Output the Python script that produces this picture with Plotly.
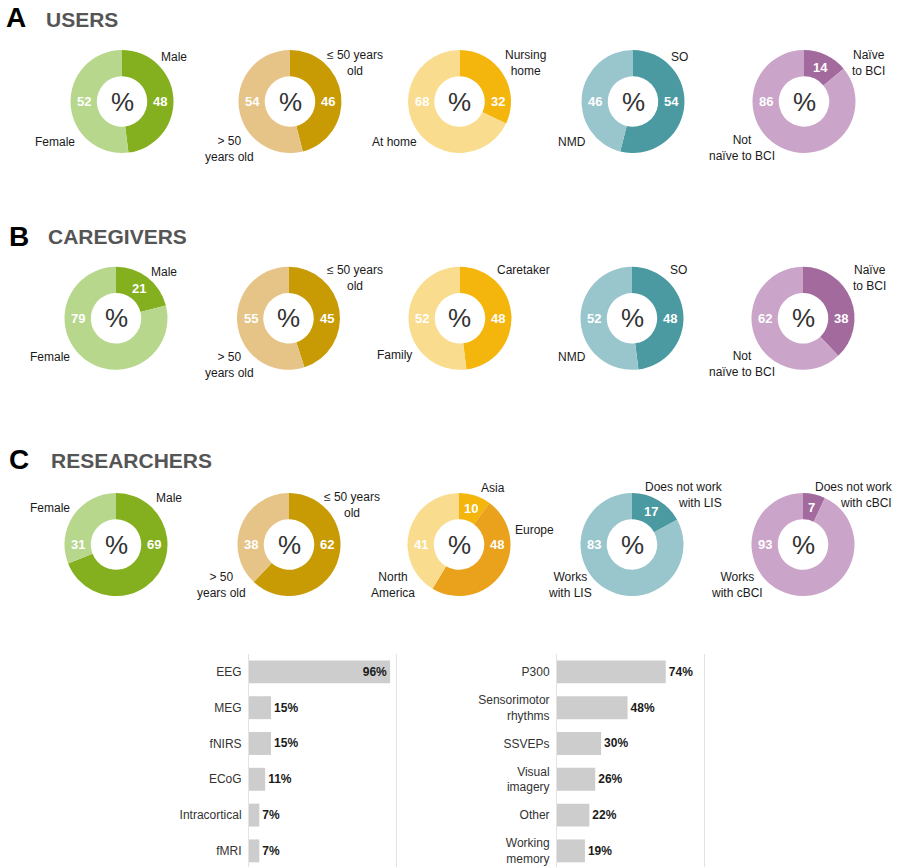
import math
import plotly.graph_objects as go

W, H = 900, 867

# ---------------- DATA ----------------
users_gender_labels = ["Male", "Female"]
users_gender_values = [48, 52]
users_age_labels = ["≤ 50 years old", "> 50 years old"]
users_age_values = [46, 54]
users_home_labels = ["Nursing home", "At home"]
users_home_values = [32, 68]
users_diag_labels = ["SO", "NMD"]
users_diag_values = [54, 46]
users_bci_labels = ["Naïve to BCI", "Not naïve to BCI"]
users_bci_values = [14, 86]

care_gender_labels = ["Male", "Female"]
care_gender_values = [21, 79]
care_age_labels = ["≤ 50 years old", "> 50 years old"]
care_age_values = [45, 55]
care_role_labels = ["Caretaker", "Family"]
care_role_values = [48, 52]
care_diag_labels = ["SO", "NMD"]
care_diag_values = [48, 52]
care_bci_labels = ["Naïve to BCI", "Not naïve to BCI"]
care_bci_values = [38, 62]

res_gender_labels = ["Male", "Female"]
res_gender_values = [69, 31]
res_age_labels = ["≤ 50 years old", "> 50 years old"]
res_age_values = [62, 38]
res_region_labels = ["Asia", "Europe", "North America"]
res_region_values = [10, 48, 41]
res_lis_labels = ["Does not work with LIS", "Works with LIS"]
res_lis_values = [17, 83]
res_cbci_labels = ["Does not work with cBCI", "Works with cBCI"]
res_cbci_values = [7, 93]

recording_methods = ["EEG", "MEG", "fNIRS", "ECoG", "Intracortical", "fMRI"]
recording_pct = [96, 15, 15, 11, 7, 7]
paradigms = ["P300", "Sensorimotor<br>rhythms", "SSVEPs", "Visual<br>imagery", "Other", "Working<br>memory"]
paradigm_pct = [74, 48, 30, 26, 22, 19]

section_letters = ["A", "B", "C"]
section_titles = ["USERS", "CAREGIVERS", "RESEARCHERS"]

# ---------------- STYLE ----------------
FONT = "Liberation Sans, Arial, sans-serif"
GREEN = ["#84AF1E", "#B6D78C"]
GOLD = ["#C89A04", "#E6C487"]
YELLOW = ["#F4B50C", "#FADC8E"]
REGION = ["#F4B50C", "#EAA11B", "#FADC8E"]
TEAL = ["#4B9AA2", "#99C6CC"]
PURPLE = ["#A36A9E", "#CBA4C9"]

R_OUT = 51.5
HOLE = 0.49
R_MID = 38


def px(x):
    return x / W


def py(y):
    return 1 - y / H


# pies: (values, colors, center x, center y, names, label annotations [(text, x, y, xanchor, align)])
pies = [
    (users_gender_values, GREEN, 122, 101.5, users_gender_labels,
     [("Male", 174, 57, "center", "center"), ("Female", 55, 142, "center", "center")]),
    (users_age_values, GOLD, 290, 101.5, users_age_labels,
     [("≤ 50 years<br>old", 355, 63, "center", "center"), ("> 50<br>years old", 230, 149, "center", "center")]),
    (users_home_values, YELLOW, 459.5, 101.5, users_home_labels,
     [("Nursing<br>home", 525, 63, "center", "center"), ("At home", 394, 142, "center", "center")]),
    (users_diag_values, TEAL, 633, 101.5, users_diag_labels,
     [("SO", 679, 57, "center", "center"), ("NMD", 572, 142, "center", "center")]),
    (users_bci_values, PURPLE, 804, 101.5, users_bci_labels,
     [("Naïve<br>to BCI", 868, 63, "center", "center"), ("Not<br>naïve to BCI", 742, 148, "center", "center")]),

    (care_gender_values, GREEN, 116, 318.3, care_gender_labels,
     [("Male", 164, 272, "center", "center"), ("Female", 50, 357, "center", "center")]),
    (care_age_values, GOLD, 288.5, 318.3, care_age_labels,
     [("≤ 50 years<br>old", 355, 278, "center", "center"), ("> 50<br>years old", 230, 365, "center", "center")]),
    (care_role_values, YELLOW, 460, 318.3, care_role_labels,
     [("Caretaker", 523, 270, "center", "center"), ("Family", 394, 355, "center", "center")]),
    (care_diag_values, TEAL, 632, 318.3, care_diag_labels,
     [("SO", 678, 270, "center", "center"), ("NMD", 572, 357, "center", "center")]),
    (care_bci_values, PURPLE, 803, 318.3, care_bci_labels,
     [("Naïve<br>to BCI", 869, 278, "center", "center"), ("Not<br>naïve to BCI", 742, 364, "center", "center")]),

    (res_gender_values, GREEN, 116, 544.5, res_gender_labels,
     [("Male", 169, 498, "center", "center"), ("Female", 50, 508, "center", "center")]),
    (res_age_values, GOLD, 289, 544.5, res_age_labels,
     [("≤ 50 years<br>old", 352, 505, "center", "center"), ("> 50<br>years old", 221, 585, "center", "center")]),
    (res_region_values, REGION, 459, 544.5, res_region_labels,
     [("Asia", 493, 488, "center", "center"), ("Europe", 534, 530, "center", "center"),
      ("North<br>America", 393, 585, "center", "center")]),
    (res_lis_values, TEAL, 632, 544.5, res_lis_labels,
     [("Does not work<br>with LIS", 725, 495, "right", "right"), ("Works<br>with LIS", 570, 585, "center", "center")]),
    (res_cbci_values, PURPLE, 803, 544.5, res_cbci_labels,
     [("Does not work<br>with cBCI", 895, 495, "right", "right"), ("Works<br>with cBCI", 737, 585, "center", "center")]),
]

fig = go.Figure()
annotations = []

for values, colors, cx, cy, labels, label_anns in pies:
    fig.add_trace(go.Pie(
        values=values, labels=labels, marker=dict(colors=colors, line=dict(width=0)),
        hole=HOLE, sort=False, direction="clockwise", rotation=0,
        textinfo="none", hoverinfo="label+value", showlegend=False,
        domain=dict(x=[px(cx - R_OUT), px(cx + R_OUT)], y=[py(cy + R_OUT), py(cy - R_OUT)]),
    ))
    # value labels inside the ring
    total = float(sum(values))
    start = 0.0
    for v in values:
        end = start + v / total * 360.0
        if start <= 270 <= end:
            ang = 270.0
        elif start <= 90 <= end:
            ang = 90.0
        else:
            ang = (start + end) / 2
        x = cx + R_MID * math.sin(math.radians(ang))
        y = cy - R_MID * math.cos(math.radians(ang))
        annotations.append(dict(text=f"<b>{v}</b>", x=px(x), y=py(y), xref="paper", yref="paper",
                                xanchor="center", yanchor="middle", showarrow=False,
                                font=dict(family=FONT, size=13, color="white")))
        start = end
    # center percent sign
    annotations.append(dict(text="%", x=px(cx), y=py(cy), xref="paper", yref="paper",
                            xanchor="center", yanchor="middle", showarrow=False,
                            font=dict(family=FONT, size=26, color="#333333")))
    for text, lx, ly, xa, al in label_anns:
        annotations.append(dict(text=text, x=px(lx), y=py(ly), xref="paper", yref="paper",
                                xanchor=xa, yanchor="middle", align=al, showarrow=False,
                                font=dict(family=FONT, size=12, color="#1a1a1a")))

# section headings
heading_pos = [(4, 18, 44, 19.5), (7, 236, 46, 236), (7, 459, 49, 460.5)]
for letter, title, (lx, ly, tx, ty) in zip(section_letters, section_titles, heading_pos):
    annotations.append(dict(text=f"<b>{letter}</b>", x=px(lx), y=py(ly), xref="paper", yref="paper",
                            xanchor="left", yanchor="middle", showarrow=False,
                            font=dict(family=FONT, size=28, color="#000000")))
    annotations.append(dict(text=f"<b>{title}</b>", x=px(tx), y=py(ty), xref="paper", yref="paper",
                            xanchor="left", yanchor="middle", showarrow=False,
                            font=dict(family=FONT, size=21, color="#555555")))


# bar charts
def bar_trace(cats, vals, xa, ya):
    return go.Bar(
        y=cats, x=vals, orientation="h", xaxis=xa, yaxis=ya,
        marker=dict(color="#CDCDCD", line=dict(width=0)), width=0.64,
        text=[f"<b>{v}%</b>" for v in vals],
        textposition=["inside" if v > 80 else "outside" for v in vals],
        insidetextanchor="end", cliponaxis=False,
        textfont=dict(family=FONT, size=12, color="#1a1a1a"),
        insidetextfont=dict(family=FONT, size=12, color="#1a1a1a"),
        outsidetextfont=dict(family=FONT, size=12, color="#1a1a1a"),
        showlegend=False, hoverinfo="x+y",
    )


fig.add_trace(bar_trace(recording_methods, recording_pct, "x", "y"))
fig.add_trace(bar_trace(paradigms, paradigm_pct, "x2", "y2"))

ydom = [0, py(654)]
common_x = dict(range=[0, 100], showticklabels=False, showgrid=False,
                zeroline=False, showline=False, fixedrange=True)
common_y = dict(range=[5.45, -0.5], showline=True, mirror=True, linecolor="#E3E3E3", linewidth=1,
                ticks="", showgrid=False, zeroline=False, automargin=False, ticklabelstandoff=4,
                tickfont=dict(family=FONT, size=12, color="#333333"), fixedrange=True)

fig.update_layout(
    width=W, height=H, margin=dict(l=0, r=0, t=0, b=0),
    paper_bgcolor="white", plot_bgcolor="white",
    font=dict(family=FONT),
    xaxis=dict(domain=[px(249), px(396)], anchor="y", **common_x),
    yaxis=dict(domain=ydom, anchor="x", type="category", **common_y),
    xaxis2=dict(domain=[px(557), px(704)], anchor="y2", **common_x),
    yaxis2=dict(domain=ydom, anchor="x2", type="category", **common_y),
    annotations=annotations,
    bargap=0.36,
)

fig.write_html(
    "out.html",
    config={"displayModeBar": False},
    post_script="document.body.style.margin='0';document.body.style.padding='0';"
                "document.body.style.overflow='hidden';",
)
